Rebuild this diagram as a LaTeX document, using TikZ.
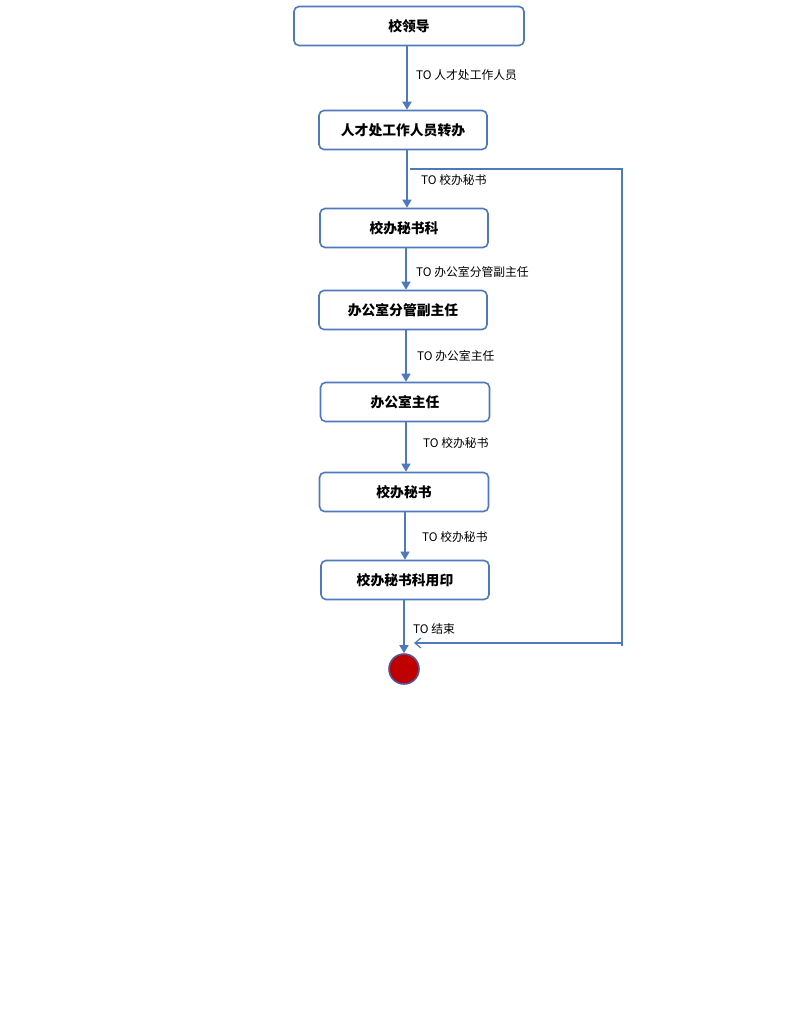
\documentclass[tikz,border=0pt]{standalone}
\usepackage{fontspec}
\setmainfont{Liberation Sans}
\newfontfamily\cjk{Noto Sans CJK SC}
\usetikzlibrary{arrows.meta}
\definecolor{bl}{RGB}{79,121,189}
\definecolor{endred}{RGB}{190,0,0}
\definecolor{endrim}{RGB}{85,85,150}
\begin{document}
\begin{tikzpicture}[x=1pt,y=-1pt,
  box/.style={draw=bl,line width=1.6pt,rounded corners=5pt,fill=white,
    inner sep=0pt,font=\cjk\bfseries\fontsize{13.8}{15}\selectfont},
  lbl/.style={anchor=west,inner sep=0pt,font=\cjk\fontsize{11.8}{13}\selectfont},
  flow/.style={draw=bl,line width=1.3pt,-{Triangle[width=9pt,length=8pt]}},
  ret/.style={draw=bl,line width=1.2pt,-{Straight Barb[width=10pt,length=6pt]}}]
\useasboundingbox (0,0) rectangle (794,1020);
\fill[white] (0,0) rectangle (794,1020);
\node[box,minimum width=230pt,minimum height=39pt] (n1) at (409,26) {校领导};
\node[box,minimum width=168pt,minimum height=39pt] (n2) at (403,130) {人才处工作人员转办};
\node[box,minimum width=168pt,minimum height=39pt] (n3) at (404,228) {校办秘书科};
\node[box,minimum width=168pt,minimum height=39pt] (n4) at (403,310) {办公室分管副主任};
\node[box,minimum width=169pt,minimum height=39pt] (n5) at (405,402) {办公室主任};
\node[box,minimum width=169pt,minimum height=39pt] (n6) at (404,492) {校办秘书};
\node[box,minimum width=168pt,minimum height=39pt] (n7) at (405,580) {校办秘书科用印};
\node[circle,draw=endrim,fill=endred,line width=1.6pt,minimum size=30pt,inner sep=0pt] (e) at (404,669) {};
% main flow
\draw[flow,line width=2pt] (n1.south -| 407,0) -- (n2.north -| 407,0);
\draw[flow] (n2.south -| 407,0) -- (n3.north -| 407,0);
\draw[flow] (n3.south -| 406,0) -- (n4.north -| 406,0);
\draw[flow] (n4.south -| 406,0) -- (n5.north -| 406,0);
\draw[flow] (n5.south -| 406,0) -- (n6.north -| 406,0);
\draw[flow] (n6.south -| 405,0) -- (n7.north -| 405,0);
\draw[flow] (n7.south -| e.north) -- (e.north);
% branch
\coordinate (b0) at (410,169);
\coordinate (b1) at (622,169);
\coordinate (b2) at (622,646);
\coordinate (b3) at (622,643);
\coordinate (b4) at (414,643);
\draw[draw=bl,line width=1.2pt] (b0) -- (b1) -- (b2);
\draw[ret] (b3) -- (b4);
% labels
\node[lbl] (l1) at (416,75) {TO 人才处工作人员};
\node[lbl] (l2) at (421,180) {TO 校办秘书};
\node[lbl] (l3) at (416,272) {TO 办公室分管副主任};
\node[lbl] (l4) at (417,356) {TO 办公室主任};
\node[lbl] (l5) at (423,443) {TO 校办秘书};
\node[lbl] (l6) at (422,537) {TO 校办秘书};
\node[lbl] (l7) at (413,629) {TO 结束};
\end{tikzpicture}
\end{document}
